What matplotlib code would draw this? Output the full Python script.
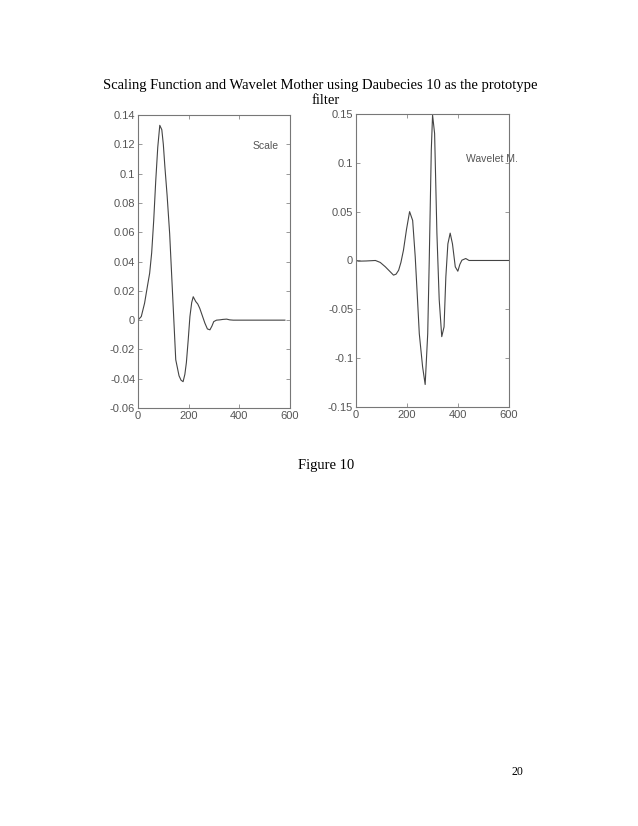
import matplotlib.pyplot as plt

# valores
scale_x = [0, 13, 26, 38, 46, 54, 62, 70, 78, 86, 94, 100, 106, 115, 125, 132, 139, 149, 162, 170,
           178, 185, 191, 198, 205, 212, 218, 228, 236, 244, 254, 264, 274, 284, 292, 299, 310,
           323, 335, 350, 362, 376, 450, 520, 580]
scale_y = [0.0, 0.0025, 0.0116, 0.024, 0.032, 0.046, 0.068, 0.095, 0.118, 0.133, 0.13, 0.12,
           0.105, 0.085, 0.059, 0.034, 0.009, -0.027, -0.038, -0.041, -0.042, -0.037, -0.029,
           -0.014, 0.0025, 0.012, 0.016, 0.0127, 0.011, 0.008, 0.003, -0.002, -0.006, -0.0066,
           -0.004, -0.001, 0.0, 0.0002, 0.0005, 0.0007, 0.0002, 0.0, 0.0, 0.0, 0.0]

wave_x = [0, 10, 40, 76, 95, 115, 132, 147, 157, 167, 176, 186, 198, 210, 222, 232, 240, 248,
          261, 271, 281, 287, 295, 300, 308, 317, 326, 336, 345, 352, 360, 369, 378, 389, 399,
          407, 415, 430, 443, 500, 600]
wave_y = [0.0, -0.0007, -0.0005, 0.0, -0.002, -0.0065, -0.011, -0.015, -0.014, -0.01, -0.002,
          0.0106, 0.032, 0.05, 0.041, 0.004, -0.035, -0.075, -0.109, -0.127, -0.075, 0.0, 0.113,
          0.149, 0.13, 0.028, -0.04, -0.078, -0.068, -0.017, 0.017, 0.028, 0.017, -0.0065,
          -0.011, -0.004, 0.0003, 0.002, 0.0, 0.0, 0.0]

scale_yticks = [-0.06, -0.04, -0.02, 0, 0.02, 0.04, 0.06, 0.08, 0.1, 0.12, 0.14]
scale_ylabels = ['-0.06', '-0.04', '-0.02', '0', '0.02', '0.04', '0.06', '0.08', '0.1', '0.12', '0.14']
wave_yticks = [-0.15, -0.1, -0.05, 0, 0.05, 0.1, 0.15]
wave_ylabels = ['-0.15', '-0.1', '-0.05', '0', '0.05', '0.1', '0.15']
xticks = [0, 200, 400, 600]
xlabels = ['0', '200', '400', '600']

fig = plt.figure(figsize=(6.38, 8.26), dpi=100)
fig.patch.set_facecolor('white')

gris = '#555555'


def estilo(ax):
    for s in ax.spines.values():
        s.set_color('#777777')
        s.set_linewidth(0.8)
    ax.tick_params(direction='in', length=3, width=0.6, colors='#888888',
                   labelcolor=gris, labelsize=8, top=True, right=True, pad=2)
    for lab in ax.get_xticklabels() + ax.get_yticklabels():
        lab.set_family('Liberation Sans')


ax1 = fig.add_axes([0.2163, 0.506, 0.2382, 0.3547])
ax1.plot(scale_x, scale_y, color='#444444', linewidth=0.8)
ax1.set_xlim(0, 600)
ax1.set_ylim(-0.06, 0.14)
ax1.set_xticks(xticks)
ax1.set_xticklabels(xlabels)
ax1.set_yticks(scale_yticks)
ax1.set_yticklabels(scale_ylabels)
ax1.text(0.757, 0.885, 'Scale', transform=ax1.transAxes, fontsize=7.5, color=gris,
         family='Liberation Sans')
estilo(ax1)

ax2 = fig.add_axes([0.558, 0.5073, 0.240, 0.3547])
ax2.plot(wave_x, wave_y, color='#444444', linewidth=0.8)
ax2.set_xlim(0, 600)
ax2.set_ylim(-0.15, 0.15)
ax2.set_xticks(xticks)
ax2.set_xticklabels(xlabels)
ax2.set_yticks(wave_yticks)
ax2.set_yticklabels(wave_ylabels)
ax2.text(0.72, 0.835, 'Wavelet M.', transform=ax2.transAxes, fontsize=7.5, color=gris,
         family='Liberation Sans')
estilo(ax2)

serif = ['Liberation Serif', 'DejaVu Serif']
fig.text(320 / 638, 1 - 86 / 826, 'Scaling Function and Wavelet Mother using Daubecies 10 as the prototype',
         ha='center', va='center', fontsize=10.5, family=serif)
fig.text(326 / 638, 1 - 101 / 826, 'filter', ha='center', va='center', fontsize=10.5, family=serif)
fig.text(326 / 638, 1 - 466 / 826, 'Figure 10', ha='center', va='center', fontsize=10.5, family=serif)
fig.text(517 / 638, 1 - 772 / 826, '20', ha='center', va='center', fontsize=8.5, family=serif)

fig.savefig('out.png', dpi=100)
